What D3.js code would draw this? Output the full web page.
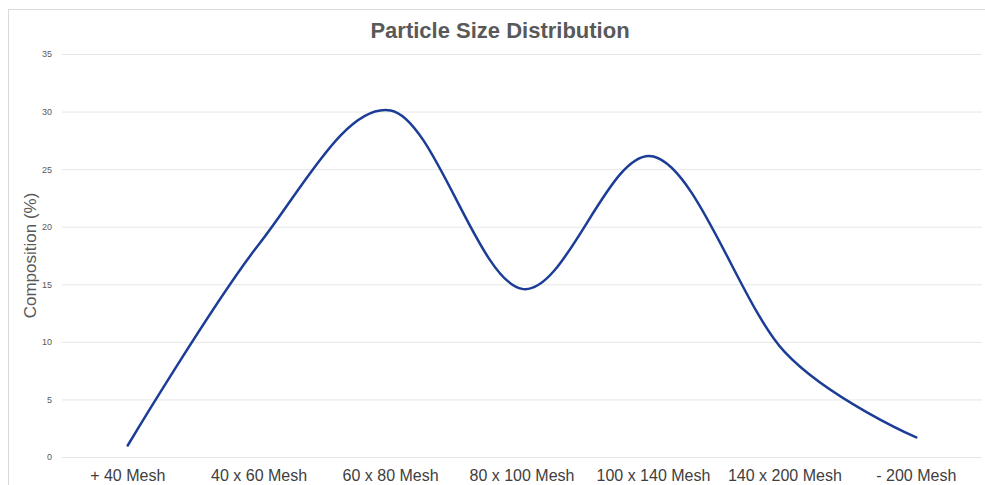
<!DOCTYPE html>
<html>
<head>
<meta charset="utf-8">
<script src="https://cdn.jsdelivr.net/npm/d3@7"></script>
<style>
	body { margin:0; background:#fff; }
	svg { display:block; font-family:"Liberation Sans", Arial, sans-serif; }
</style>
</head>
<body>
<svg class="chart" width="985" height="485"></svg>
<script>
(function() {

	// DATA
	var categories = ['+ 40 Mesh', '40 x 60 Mesh', '60 x 80 Mesh', '80 x 100 Mesh', '100 x 140 Mesh', '140 x 200 Mesh', '- 200 Mesh'];
	var composition = [1.0, 18.5, 30.1, 14.6, 26.1, 9.1, 1.7];
	var yTicks = [0, 5, 10, 15, 20, 25, 30, 35];

	// VARS
	var width = 985;
	var height = 485;
	var margin = { top:54, bottom:28, left:62, right:3 };
	var innerW = width - margin.left - margin.right;
	var innerH = height - margin.top - margin.bottom;

	var svg = d3.select('.chart');

	// chart border
	svg.append('rect')
		.attr('x', 8.5).attr('y', 9.5)
		.attr('width', 985).attr('height', 500)
		.attr('fill', 'none')
		.attr('stroke', '#d9d9d9');

	svg.append('text')
		.attr('x', 500).attr('y', 38)
		.attr('text-anchor', 'middle')
		.style('font-size', '22px')
		.style('font-weight', 'bold')
		.style('fill', '#595959')
		.text('Particle Size Distribution');

	var g = svg.append('g')
		.attr('transform', 'translate(' + margin.left + ',' + margin.top + ')');

	// SCALES
	var x = d3.scaleBand()
		.domain(categories)
		.range([0, innerW]);

	var y = d3.scaleLinear()
		.domain([0, 35])
		.range([innerH, 0]);

	// gridlines + y labels
	var yAxis = g.append('g')
		.call(d3.axisLeft(y).tickValues(yTicks).tickSize(-innerW).tickPadding(10));
	yAxis.select('.domain').remove();
	yAxis.selectAll('.tick line').attr('stroke', '#e6e6e6');
	yAxis.selectAll('.tick text')
		.style('font-size', '9px')
		.style('fill', '#595959');

	// x labels
	var xAxis = g.append('g')
		.attr('transform', 'translate(0,' + innerH + ')')
		.call(d3.axisBottom(x).tickSize(0).tickPadding(13));
	xAxis.select('.domain').remove();
	xAxis.selectAll('.tick text')
		.style('font-size', '16px')
		.style('fill', '#404040');

	// y title
	svg.append('text')
		.attr('transform', 'translate(36,' + (margin.top + innerH / 2) + ')rotate(-90)')
		.attr('text-anchor', 'middle')
		.style('font-size', '17px')
		.style('fill', '#595959')
		.text('Composition (%)');

	// line
	var line = d3.line()
		.x(function(d, i) { return x(categories[i]) + x.bandwidth() / 2; })
		.y(function(d) { return y(d); })
		.curve(d3.curveCardinal.tension(0));

	g.append('path')
		.datum(composition)
		.attr('fill', 'none')
		.attr('stroke', '#1b3d96')
		.attr('stroke-width', 2.5)
		.attr('stroke-linecap', 'round')
		.attr('d', line);

})()
</script>
</body>
</html>
